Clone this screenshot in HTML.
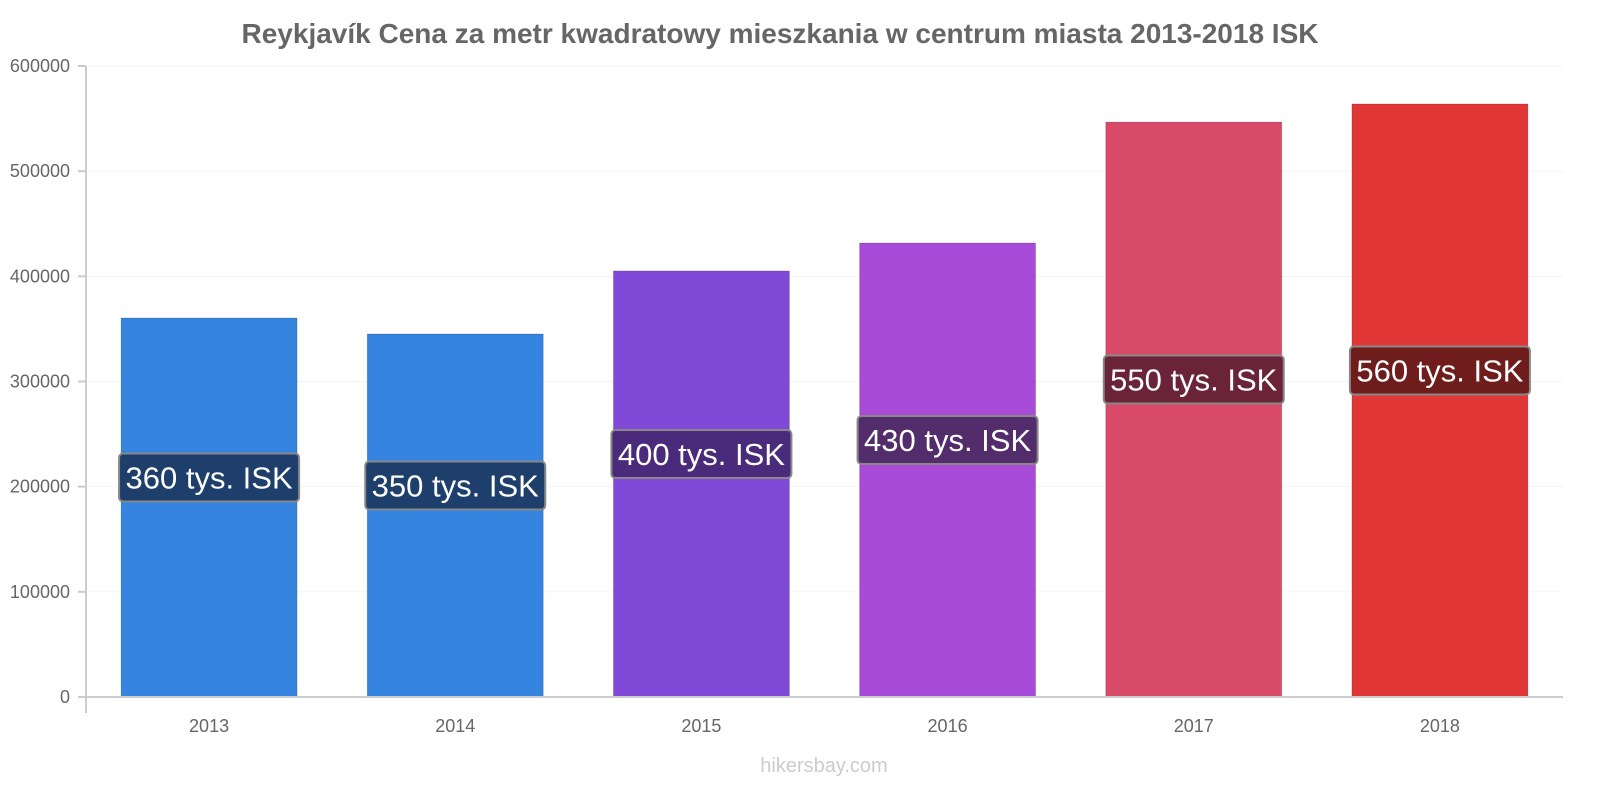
<!DOCTYPE html>
<html><head><meta charset="utf-8"><style>
body{margin:0;background:#fff;font-family:"Liberation Sans",sans-serif}
svg text{font-family:"Liberation Sans",sans-serif}
</style></head><body>
<svg id="chart" width="1600" height="800">
<text x="780" y="43" text-anchor="middle" font-size="28" font-weight="bold" fill="#666">Reykjavík Cena za metr kwadratowy mieszkania w centrum miasta 2013-2018 ISK</text>
<g id="grid"></g><g id="bars"></g><g id="labels"></g>
<line x1="86" y1="66" x2="86" y2="713" stroke="#ccc" stroke-width="2"/>
<line x1="78" y1="697" x2="1563" y2="697" stroke="#ccc" stroke-width="2"/>
<text x="824" y="772" text-anchor="middle" font-size="20" fill="#ccc">hikersbay.com</text>
</svg>
<script>
const categories=["2013","2014","2015","2016","2017","2018"];
const values=[360400,345200,405100,431700,546700,563900];
const valueLabels=["360 tys. ISK","350 tys. ISK","400 tys. ISK","430 tys. ISK","550 tys. ISK","560 tys. ISK"];
const yTicks=[0,100000,200000,300000,400000,500000,600000];
const barColors=["#3584e0","#3584e0","#8049d8","#a84bd8","#d94a68","#e03636"];
const labelColors=["#1e3f6b","#1e3f6b","#4a2a7a","#532d6b","#6b2437","#6e1c1c"];
const NS="http://www.w3.org/2000/svg";
const x0=86,x1=1563,yBase=697,yTop=66,yMax=600000;
const y=v=>yBase-(v/yMax)*(yBase-yTop);
const band=(x1-x0)/categories.length;
const xc=i=>x0+band*(i+0.5);
function mk(t,a,p){const e=document.createElementNS(NS,t);for(const k in a)e.setAttribute(k,a[k]);p.appendChild(e);return e;}
const grid=document.getElementById('grid'),bars=document.getElementById('bars'),labels=document.getElementById('labels');
yTicks.forEach(v=>{
 const l=mk('line',{x1:x0,x2:x1,y1:y(v),y2:y(v),stroke:'#f3f3f3','stroke-width':1},grid);
 
 
 const tk=mk('line',{x1:78,x2:86,y1:y(v),y2:y(v),stroke:'#ccc','stroke-width':2},grid);
 
 
 const t=mk('text',{x:70,y:y(v)+6,'text-anchor':'end','font-size':18,fill:'#666'},grid);
 t.textContent=v;
 
 
});
const bw=band*0.715;
categories.forEach((c,i)=>{
 const r=mk('rect',{x:xc(i)-bw/2,y:y(values[i]),width:bw,height:yBase-y(values[i]),fill:barColors[i],stroke:'rgba(0,0,0,0.15)','stroke-width':1},bars);
 
 
 const t=mk('text',{x:xc(i),y:732,'text-anchor':'middle','font-size':18,fill:'#666'},labels);
 t.textContent=c;
 
 
 const cy=(y(values[i])+yBase)/2-30;
 const w=180,h=48;
 const b=mk('rect',{x:xc(i)-w/2,y:cy-h/2,width:w,height:h,rx:4,fill:labelColors[i],stroke:'#888','stroke-width':2},labels);
 
 
 const vt=mk('text',{x:xc(i),y:cy+11,'text-anchor':'middle','font-size':31,fill:'#fff'},labels);
 vt.textContent=valueLabels[i];
 
 
});
</script>
</body></html>
